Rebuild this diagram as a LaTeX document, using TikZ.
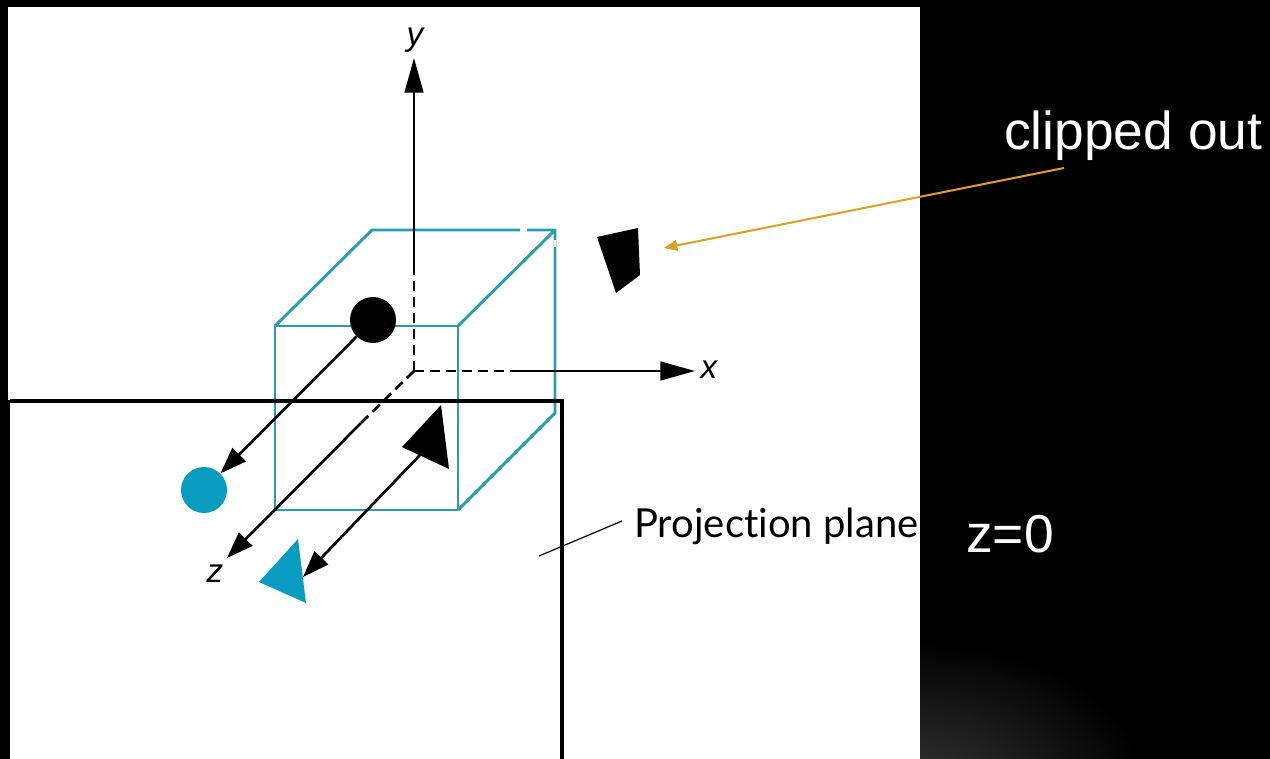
\documentclass[tikz,border=0pt]{standalone}
\usepackage{fontspec}
\setmainfont{Liberation Sans}
\newfontfamily\planefont[Ligatures=NoCommon]{Lato}
\usetikzlibrary{arrows.meta}
\definecolor{cubec}{HTML}{2A9DB5}
\definecolor{fillc}{HTML}{0A9BC0}
\definecolor{orangec}{HTML}{DE9F24}
\tikzset{
  x=0.75pt,y=-0.75pt,
  cubeline/.style={draw=cubec,line width=2.2pt,line join=round},
  axisline/.style={draw=black,line width=2pt},
  dashline/.style={axisline,dash pattern=on 7.5pt off 4.5pt},
  axis/.style={axisline,-{Triangle[length=26pt,width=14pt]}},
  ray/.style={axisline,-{Triangle[length=20pt,width=14pt]}},
  proj/.style={draw=black,line width=2.4pt},
  axislabel/.style={font=\itshape\fontsize{25}{28}\selectfont,inner sep=0pt},
  whitelabel/.style={text=white,font=\fontsize{40}{44}\selectfont,inner sep=0pt,anchor=base west},
}
\begin{document}
\begin{tikzpicture}
\useasboundingbox (0,0) rectangle (1270,759);
\fill[black] (0,0) rectangle (1270,759);
\begin{scope}
\clip (920,600) rectangle (1270,759);
\foreach \i in {50,...,1} {
  \pgfmathsetmacro{\w}{21-0.42*\i}
  \pgfmathsetmacro{\rx}{4.6*\i}
  \pgfmathsetmacro{\ry}{3*\i}
  \fill[white!\w!black] (920,790) ellipse ({\rx} and {\ry});
}
\end{scope}
\fill[white] (8,7) rectangle (920,400);
\fill[white] (10,400) rectangle (920,759);
% cube
\coordinate (A) at (275,326);
\coordinate (B) at (458,326);
\coordinate (C) at (458,510);
\coordinate (D) at (275,510);
\coordinate (E) at (372,230);
\coordinate (F) at (555,230);
\coordinate (G) at (555,413);
\draw[cubeline] (A) -- (B) -- (C) -- (D) -- cycle;
\draw[cubeline] (A) -- (E) -- (F) -- (B);
\draw[cubeline] (F) -- (G) -- (C);
\draw[white,line width=2.6pt] (520,230) -- (527,230);
\draw[white,line width=1.4pt] (555,240) -- (555,247);
% axes
\coordinate (O) at (414,371);
\coordinate (Ys) at (414,275);
\coordinate (Xs) at (515,371);
\coordinate (Zs) at (361,423);
\coordinate (Yend) at (414,58);
\coordinate (Xend) at (695,371);
\coordinate (Zend) at (227,558);
\draw[axis] (Ys) -- (Yend);
\draw[dashline] (O) -- (Ys);
\draw[dashline] (O) -- (Xs);
\draw[axis] (Xs) -- (Xend);
\draw[dashline] (O) -- (Zs);
\draw[ray] (Zs) -- (Zend);
\node[axislabel] (ylab) at (415,40) {y};
\node[axislabel] (xlab) at (709,370) {x};
\node[axislabel] (zlab) at (215,574) {z};
% projection plane
\draw[proj] (10,401) -- (562,401) -- (562,759);
% objects
\node[circle,fill=black,minimum size=34.5pt,inner sep=0pt] (p) at (373,320) {};
\node[circle,fill=fillc,minimum size=34.5pt,inner sep=0pt] (q) at (204,490) {};
\draw[ray] (p) -- (q);
\fill[black] (441,405) -- (402,447) -- (449,469) -- cycle;
\fill[fillc] (298,539) -- (259,582) -- (306,603) -- cycle;
\coordinate (t1) at (420,455);
\coordinate (t2) at (303,577);
\draw[ray] (t1) -- (t2);
\fill[black] (597,237) -- (638,228) -- (640,275) -- (616,293) -- cycle;
% labels
\coordinate (ls) at (539,556);
\coordinate (le) at (622,521);
\draw[black,line width=0.9pt] (ls) -- (le);
\node[inner sep=0pt,anchor=base west,font=\planefont\fontsize{30}{32}\selectfont] (pplab) at (634,537) {Projection plane};
\node[whitelabel] (clip) at (1004,150) {clipped out};
\node[whitelabel] (z0) at (966,552) {z=0};
\coordinate (cs) at (1064,168);
\coordinate (ce) at (664,248);
\draw[draw=orangec,line width=1.5pt,-{Triangle[length=10pt,width=8pt]}] (cs) -- (ce);
\end{tikzpicture}
\end{document}
